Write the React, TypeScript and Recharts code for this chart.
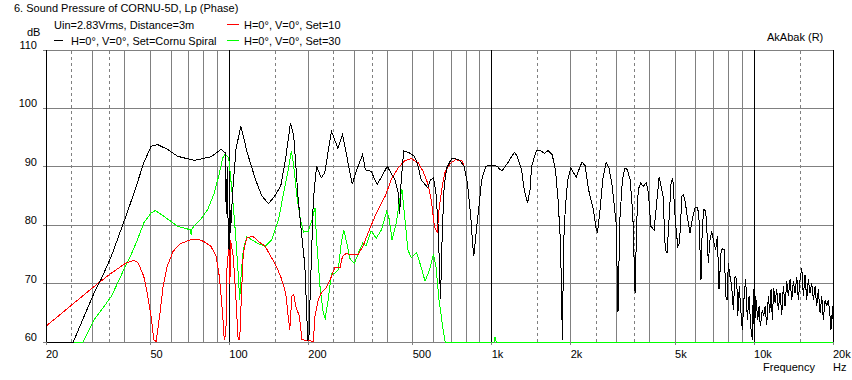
import React from 'react'
import {
  LineChart,
  Line,
  XAxis,
  YAxis,
  CartesianGrid,
  ReferenceLine,
} from 'recharts'

const FONT = '"Liberation Sans", Arial, sans-serif'

// frequency axis
const xTicks = [20, 50, 100, 200, 500, 1000, 2000, 5000, 10000, 20000]
const xTickLabels = ['20', '50', '100', '200', '500', '1k', '2k', '5k', '10k', '20k']
const yTicks = [60, 70, 80, 90, 100, 110]

// vertical grid
const gridSolid = [30, 40, 50, 60, 70, 80, 90, 200, 300, 400, 500, 600, 700, 800, 900, 2000, 3000, 4000, 5000, 6000, 7000, 8000, 9000]
const gridDashed = [25, 35, 150, 250, 350, 1500, 2500, 3500, 15000]
const gridMajor = [100, 1000, 10000, 20000]

// H=0°, V=0°, Set=Cornu Spiral (black)
const cornuFreq = [
  20, 25.4, 30.5, 32.4, 35.5, 40.3, 43.3, 47.2, 50.3, 53.3, 58, 63.5, 73.4, 85, 93, 96.3, 97.3, 98.2, 99.2, 100.2, 101,
  103, 106, 110.6, 117, 125.8, 133, 141, 149, 157, 163.6, 171, 176, 183, 194, 199, 201, 203, 209, 215, 224, 231,
  245, 259, 270, 282, 294, 306, 322, 330, 347, 366, 385, 400, 410, 428, 440, 446, 452, 462, 485, 508, 524, 538,
  571, 585, 600, 613, 625, 638, 648, 659, 674, 705, 751, 785, 808, 832, 845, 855, 872, 894, 916, 950, 985, 1050,
  1075, 1100, 1160, 1220, 1250, 1300, 1330, 1370, 1400, 1420, 1480, 1540, 1590, 1640, 1700, 1750, 1790, 1830,
  1860, 1880, 1910, 1950, 2000, 2050, 2100, 2150, 2210, 2270, 2340, 2440, 2500, 2530, 2590, 2650, 2730, 2800,
  2880, 2980, 3030, 3080, 3150, 3220, 3290, 3370, 3450, 3520, 3570, 3620, 3700, 3780, 3880, 3960, 4040, 4160,
  4280, 4350, 4500, 4590, 4660, 4720, 4830, 4900, 4940, 5020, 5120, 5200, 5310, 5380, 5470, 5560, 5702, 5817,
  5956, 6099, 6169, 6279, 6352, 6447, 6544, 6602, 6695, 6796, 6898, 6996, 7145, 7246, 7356, 7486, 7570, 7705,
  7800, 7890, 7980, 8100, 8222, 8338, 8464, 8593, 8667, 8790, 8899, 9024, 9183, 9297, 9429, 9571, 9714, 9852,
  9939, 10026, 10150, 10330, 10449, 10568, 10756, 10889, 11014, 11180, 11336, 11477, 11609, 11743, 11889, 12026,
  12206, 12380, 12565, 12754, 12934, 13129, 13327, 13516, 13719, 13925, 14122, 14334, 14550, 14756, 14978, 15203,
  15417, 15645, 15881, 16106, 16349, 16596, 16831, 17085, 17340, 17586, 17852, 18121, 18378, 18655, 18936, 19204,
  19490, 19640, 19930, 20000,
]
const cornuDb = [
  60, 60, 68.4, 70.7, 74.7, 81.5, 85.5, 90.7, 93.5, 93.8, 93, 91.8, 91.1, 91.7, 93, 92.4, 82, 90, 76, 86, 78.7,
  86, 93, 97, 92.4, 87.8, 85, 83.7, 85, 86.7, 91.2, 97.5, 95.2, 84.4, 73, 60.3, 60.5, 67.2, 84.4, 90.1, 88.1, 89,
  96.1, 93.2, 95.5, 91.2, 87, 89.5, 92.1, 89.5, 89.2, 87, 88.7, 90.1, 89.2, 87.8, 85.5, 82, 87.8, 92.7, 92.4, 91.8, 90.1, 87.8,
  86.4, 87.8, 88.1, 85.5, 79.8, 67.3, 78.7, 86.7, 89.8, 91.5, 91.2, 90.1, 87.2, 81.5, 77, 74.7, 78.7, 83.2, 87.8, 90.1, 90.3, 90.1,
  89.5, 89.4, 90.9, 92.5, 91.8, 89.5, 86.1, 83.8, 86.1, 90.1, 92.8, 92.7, 92.3, 92.8, 92.1, 89.5, 84.4, 77,
  60.4, 77, 83.2, 87.8, 89.8, 89, 88.2, 89.5, 90.8, 90.2, 86.1, 82.7, 79.5, 78.7, 82.7, 87.8, 90.8, 89.8,
  86.7, 80.4, 65.2, 81, 87.8, 89.8, 89.5, 87.8, 82, 68.4, 80.4, 86.1, 87.3, 86.6, 87.3, 85.5, 79.8, 79.2,
  85, 88.3, 85, 75.8, 75.3, 79.2, 87.3, 88.1, 85.5, 80.4, 76.4, 77, 85, 85.2, 84, 81.5, 78.7, 81,
  83, 83, 81, 70.7, 79.8, 82.7, 82.4, 79.8, 73.5, 77.5, 79, 77.5, 75.8, 78.1, 69, 75.3, 76, 75.8,
  67.8, 67.2, 73.5, 71.2, 69.5, 65.5, 71.2, 70.7, 64.4, 69.5, 65.5, 62.1, 68.4, 70.7, 63.8, 67.8, 62.7, 60.4,
  69, 60.4, 67.8, 63.8, 66.1, 62.7, 65.5, 64.4, 66.1, 63, 67.8, 65, 69, 63.8, 69.3, 66.7,
  69, 65.5, 68.4, 64.7, 69.5, 66.1, 70.4, 67.8, 70.7, 67.2, 70.4, 68.4, 71.2, 67.2, 70.7, 72.7,
  67.8, 71.5, 67.2, 70.7, 68.4, 70.1, 67.2, 69.5, 66.1, 69, 65, 67.8, 63.8, 67.2, 66.1, 67.2,
  64.4, 62.1, 66.1, 64,
]

// H=0°, V=0°, Set=10 (red), below ~780 Hz; above it lies under the black trace
const set10Freq = [
  20, 30.5, 35.5, 40.3, 43.3, 45, 47.2, 48.6, 50.3, 51.5, 52.6, 54.4, 55.9, 58, 61, 64.8, 71, 75.9, 80, 85, 89,
  91.6, 94.2, 95.6, 97, 98, 99.6, 100.5, 101, 103.5, 106, 108, 109.5, 111, 113, 116.5, 123, 129, 137, 143.5, 149,
  157, 164, 167, 170, 173, 176, 179, 185, 189, 209, 212, 218, 224, 234, 245, 252, 264, 270, 278, 309, 323, 338,
  359, 380, 393, 414, 440, 465, 494, 524, 548, 570, 588, 605, 620, 630, 648, 665, 700, 728, 770,
]
const set10Db = [
  62.7, 69.5, 71.8, 73.5, 74, 73.5, 71.2, 68.4, 64.4, 60.4, 60.1, 65, 69.5, 73, 75.5, 76.8, 77.5, 77.6, 77.2, 76.4, 74.7,
  71.2, 65, 60.4, 61.5, 73, 76.4, 70, 77.5, 74.7, 67.2, 60.4, 60.4, 67.2, 75.3, 77.8, 78.1, 77.2, 76.4, 74.7, 73.5,
  71.2, 68.4, 65, 62.1, 67.8, 68.1, 66.1, 64.4, 60.4, 60.1, 64.4, 67.2, 68.4, 69.3, 71.2, 72.7, 72.7, 74.7, 75.1, 74.9, 76.4, 78.7,
  81.5, 83.8, 85, 87.8, 89.8, 91, 91.4, 90.7, 89.2, 87.2, 84.4, 79.8, 78.7, 82.7, 86.7, 89.2, 90.7, 91.2, 91,
]

// H=0°, V=0°, Set=30 (green)
const set30Freq = [
  20, 27.7, 30.5, 35.5, 39.6, 42, 44.6, 47.2, 50.3, 52.2, 55.2, 59.7, 63.5, 67.5, 70.9, 71.5, 72.2, 77.8, 82.7,
  87.6, 91.6, 94.3, 96.5, 99.4, 102.5, 105.5, 108, 109.5, 111, 113, 116.5, 122, 129, 137, 145, 154, 161, 166.8,
  172.4, 176, 181.5, 186.6, 191.9, 200, 206.7, 212, 215, 222, 228, 232, 238, 245, 252, 260, 267, 273, 280, 289,
  300, 314, 323, 332, 347, 363, 380, 398, 407, 417, 433, 446, 455, 466, 479, 494, 517, 537, 557, 580, 600, 613,
  630, 650, 665, 1020, 1030, 1040, 20000,
]
const set30Db = [
  60, 60, 63.8, 67.8, 72.4, 74.7, 77.5, 80.4, 82.1, 82.5, 81.8, 80.7, 79.8, 79.5, 79.2, 78.4, 79.5, 81, 82.7,
  85.5, 88.9, 91.5, 92.2, 91.5, 85.5, 78.7, 71.8, 67.2, 71.8, 75.8, 78, 77.5, 76.8, 76.4, 77.5, 81, 85.5, 88.9,
  92.7, 90.1, 84.4, 81, 78.8, 79, 81, 83, 77.5, 69, 65, 64.1, 67.2, 71.8, 71.8, 72.4, 77, 79.2, 77, 74.1,
  73.5, 75.8, 77, 76.4, 79, 77.8, 79.2, 82.4, 81, 77.5, 80.4, 84.4, 86.1, 81.5, 75.8, 74.4, 75.3, 73, 70.4, 72.4, 75, 73,
  67.2, 62.7, 60, 60, 60.8, 60, 60,
]

const toPoints = (freq: number[], db: number[]) => freq.map((f, i) => ({ f, db: db[i] }))

const cornuData = toPoints(cornuFreq, cornuDb)
const set10Data = [
  ...toPoints(set10Freq, set10Db),
  ...cornuData.filter((p) => p.f > 780),
]
const set30Data = toPoints(set30Freq, set30Db)

const XTick = ({ x, y, payload }: any) => {
  const i = xTicks.indexOf(payload.value)
  return (
    <text x={x} y={y + 11} textAnchor="start" fontSize={11} fontFamily={FONT} fill="#000">
      {xTickLabels[i]}
    </text>
  )
}

const YTick = ({ x, y, payload }: any) => (
  <text x={x - 4} y={y - 1} textAnchor="end" fontSize={11} fontFamily={FONT} fill="#000">
    {payload.value}
  </text>
)

export default function App() {
  return (
    <div style={{ position: 'absolute', left: 0, top: 0, width: 852, height: 380, background: '#fff' }}>
      <LineChart width={852} height={380} margin={{ top: 50, right: 19, bottom: 0, left: 0 }}>
        <CartesianGrid horizontal vertical={false} stroke="#808080" shapeRendering="crispEdges" />
        <XAxis
          type="number"
          dataKey="f"
          scale="log"
          domain={[20, 20000]}
          ticks={xTicks}
          interval={0}
          height={38}
          tickSize={3}
          tick={<XTick />}
          axisLine={false}
          tickLine={{ stroke: '#808080', shapeRendering: 'crispEdges' }}
        />
        <YAxis
          type="number"
          domain={[60, 110]}
          ticks={yTicks}
          interval={0}
          width={46}
          tickSize={3}
          tick={<YTick />}
          axisLine={{ stroke: '#000', shapeRendering: 'crispEdges' }}
          tickLine={{ stroke: '#808080', shapeRendering: 'crispEdges' }}
        />
        {gridSolid.map((f) => (
          <ReferenceLine key={'s' + f} x={f} stroke="#808080" shapeRendering="crispEdges" zIndex={-50} />
        ))}
        {gridDashed.map((f) => (
          <ReferenceLine key={'d' + f} x={f} stroke="#808080" strokeDasharray="3 3" shapeRendering="crispEdges" zIndex={-50} />
        ))}
        {gridMajor.map((f) => (
          <ReferenceLine key={'m' + f} x={f} stroke="#000" shapeRendering="crispEdges" zIndex={-50} />
        ))}
        <Line data={set30Data} dataKey="db" stroke="#00ff00" strokeWidth={1} dot={false} isAnimationActive={false} shapeRendering="crispEdges" />
        <Line data={set10Data} dataKey="db" stroke="#ff0000" strokeWidth={1} dot={false} isAnimationActive={false} shapeRendering="crispEdges" />
        <Line data={cornuData} dataKey="db" stroke="#000000" strokeWidth={1} dot={false} isAnimationActive={false} shapeRendering="crispEdges" />
      </LineChart>

      {/* title, legend and captions */}
      <svg
        width={852}
        height={380}
        style={{ position: 'absolute', left: 0, top: 0, pointerEvents: 'none' }}
        fontFamily={FONT}
        fontSize={11}
      >
        <text x={14} y={12}>6. Sound Pressure of CORNU-5D, Lp (Phase)</text>
        <text x={54} y={29}>Uin=2.83Vrms, Distance=3m</text>
        <text x={27} y={36}>dB</text>
        <line x1={54} x2={63} y1={40.5} y2={40.5} stroke="#000" />
        <text x={71} y={45}>H=0°, V=0°, Set=Cornu Spiral</text>
        <line x1={227} x2={239} y1={24.5} y2={24.5} stroke="#ff0000" />
        <text x={244} y={29}>H=0°, V=0°, Set=10</text>
        <line x1={227} x2={239} y1={40.5} y2={40.5} stroke="#00ff00" />
        <text x={244} y={45}>H=0°, V=0°, Set=30</text>
        <text x={767} y={41}>AkAbak (R)</text>
        <text x={763} y={371}>Frequency</text>
        <text x={833} y={371}>Hz</text>
      </svg>
    </div>
  )
}
